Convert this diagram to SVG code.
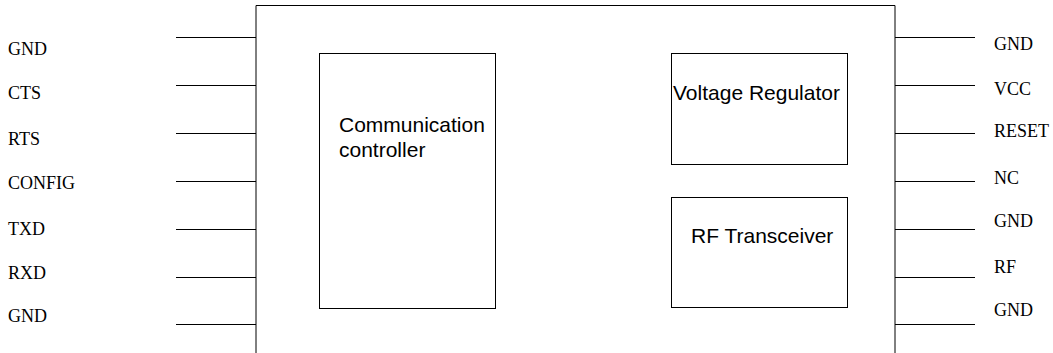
<svg xmlns="http://www.w3.org/2000/svg" width="1053" height="353" viewBox="0 0 1053 353">
<style>
.ln{stroke:#000;stroke-width:1;fill:none}
.box{stroke:#000;stroke-width:1;fill:#fff}
.pin{font-family:"Liberation Serif",serif;font-size:18px;fill:#000}
.lbl{font-family:"Liberation Sans",Arial,sans-serif;font-size:21px;fill:#000}
</style>
<rect width="1053" height="353" fill="#fff"/>
<g id="module">
<path class="ln" d="M256,353 V5.5 H895 V353"/>
</g>
<g id="connectors">
<path class="ln" d="M176,37.5 H256 M176,85.5 H256 M176,133.5 H256 M176,181.5 H256 M176,229.5 H256 M176,277.5 H256 M176,324.5 H256"/>
<path class="ln" d="M895,37.5 H975 M895,85.5 H975 M895,133.5 H975 M895,181.5 H975 M895,229.5 H975 M895,277.5 H975 M895,324.5 H975"/>
</g>
<g id="left-pins">
<text class="pin" x="8" y="55">GND</text>
<text class="pin" x="8" y="99">CTS</text>
<text class="pin" x="8" y="145">RTS</text>
<text class="pin" x="8" y="189">CONFIG</text>
<text class="pin" x="8" y="235">TXD</text>
<text class="pin" x="8" y="279">RXD</text>
<text class="pin" x="8" y="322">GND</text>
</g>
<g id="right-pins">
<text class="pin" x="994" y="50">GND</text>
<text class="pin" x="994" y="95">VCC</text>
<text class="pin" x="994" y="137">RESET</text>
<text class="pin" x="994" y="184">NC</text>
<text class="pin" x="994" y="227">GND</text>
<text class="pin" x="994" y="273">RF</text>
<text class="pin" x="994" y="316">GND</text>
</g>
<g id="comm-controller">
<rect class="box" x="319.5" y="53.5" width="176" height="255"/>
<text class="lbl" x="339" y="132">Communication</text>
<text class="lbl" x="339" y="157">controller</text>
</g>
<g id="voltage-regulator">
<rect class="box" x="671.5" y="53.5" width="176" height="111"/>
<text class="lbl" x="673" y="100">Voltage Regulator</text>
</g>
<g id="rf-transceiver">
<rect class="box" x="671.5" y="197.5" width="176" height="110"/>
<text class="lbl" x="691" y="243">RF Transceiver</text>
</g>
</svg>
